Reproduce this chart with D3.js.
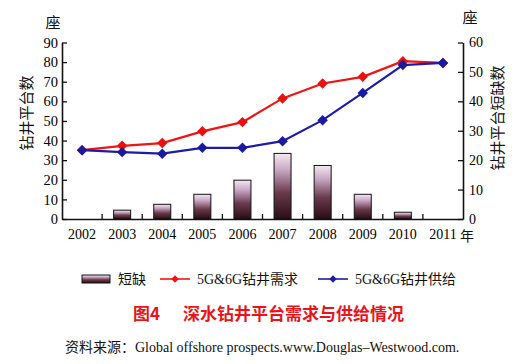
<!DOCTYPE html>
<html><head><meta charset="utf-8">
<script src="https://cdn.jsdelivr.net/npm/d3@7"></script>
<style>
html,body{margin:0;padding:0;background:#fff;}
svg{display:block;}
.serif{font-family:"Liberation Serif","DejaVu Serif","Noto Sans CJK SC",serif;}
.cjk{font-family:"Noto Sans CJK SC",sans-serif;}
</style></head>
<body>
<svg id="c" width="522" height="364"></svg>
<script>
const years = ["2002","2003","2004","2005","2006","2007","2008","2009","2010","2011"];
const demand = [35.1, 37.3, 38.7, 44.7, 49.4, 61.5, 69.1, 72.5, 80.5, 79.6];
const supply = [35.1, 34.1, 33.3, 36.3, 36.3, 39.7, 50.4, 64.3, 78.5, 79.6];
const shortage = [0, 3, 5, 8.4, 13.2, 22.3, 18.2, 8.4, 2.3, 0];
const leftTicks = [0,10,20,30,40,50,60,70,80,90];
const rightTicks = [0,10,20,30,40,50,60];
const legendLabels = ["短缺","5G&6G钻井需求","5G&6G钻井供给"];

const svg = d3.select("#c");
const L = 62, R = 463, T = 42.5, B = 219;
const x = d3.scaleBand().domain(years).range([L, R]).padding(0);
const yL = d3.scaleLinear().domain([0, 90]).range([B, T]);
const yR = d3.scaleLinear().domain([0, 60]).range([B, T]);

const defs = svg.append("defs");
const g = defs.append("linearGradient").attr("id","barg").attr("x1",0).attr("y1",0).attr("x2",0).attr("y2",1);
g.append("stop").attr("offset","0%").attr("stop-color","#f4e8f2");
g.append("stop").attr("offset","25%").attr("stop-color","#c8a8c4");
g.append("stop").attr("offset","60%").attr("stop-color","#6a3a4c");
g.append("stop").attr("offset","100%").attr("stop-color","#2a0c14");

// bars
const bw = 17;
svg.append("g").selectAll("rect").data(years.map((y,i)=>({y, v: shortage[i]})).filter(d=>d.v>0))
  .join("rect")
  .attr("x", d => x(d.y) + x.bandwidth()/2 - bw/2)
  .attr("y", d => yR(d.v))
  .attr("width", bw)
  .attr("height", d => B - yR(d.v))
  .attr("fill", "url(#barg)")
  .attr("stroke", "#111").attr("stroke-width", 1);

// axes
const axL = d3.axisLeft(yL).tickValues(leftTicks).tickSizeInner(-5).tickSizeOuter(0).tickPadding(4);
const gl = svg.append("g").attr("transform",`translate(${L},0)`).call(axL);
const axR = d3.axisRight(yR).tickValues(rightTicks).tickSizeInner(-5).tickSizeOuter(0).tickPadding(6);
const gr = svg.append("g").attr("transform",`translate(${R},0)`).call(axR);
const axB = d3.axisBottom(x).tickSize(0).tickPadding(10);
const gb = svg.append("g").attr("transform",`translate(0,${B})`).call(axB);
[gl, gr, gb].forEach(a => {
  a.select(".domain").attr("stroke","#111").attr("stroke-width",1.6);
  a.selectAll("line").attr("stroke","#111").attr("stroke-width",1.3);
  a.selectAll("text").attr("class","serif").attr("font-size",14).attr("fill","#000");
});
gl.selectAll("text").attr("font-size",14.5);
gr.selectAll("text").attr("font-size",14);
// category boundary ticks
svg.append("g").selectAll("line").data(years.slice(1)).join("line")
  .attr("x1", d => x(d)).attr("x2", d => x(d))
  .attr("y1", B).attr("y2", B - 5)
  .attr("stroke","#111").attr("stroke-width",1.3);

// lines
function series(vals, color, fill) {
  const pts = years.map((y,i)=>[x(y)+x.bandwidth()/2, yL(vals[i])]);
  svg.append("path").attr("d", d3.line()(pts)).attr("fill","none")
    .attr("stroke", color).attr("stroke-width", 2.2);
  svg.append("g").selectAll("path").data(pts).join("path")
    .attr("transform", d => `translate(${d[0]},${d[1]})`)
    .attr("d", d3.symbol().type(d3.symbolDiamond2).size(70))
    .attr("fill", fill);
}
series(demand, "#f01414", "#e81010");
series(supply, "#1c1ca8", "#1a1aa0");

// axis titles
svg.append("text").attr("class","cjk").attr("x",53).attr("y",28).attr("text-anchor","middle")
  .attr("font-size",15).attr("fill","#111").text("座");
svg.append("text").attr("class","cjk").attr("x",470).attr("y",23).attr("text-anchor","middle")
  .attr("font-size",15).attr("fill","#111").text("座");
svg.append("text").attr("class","cjk").attr("transform","translate(32,113) rotate(-90)")
  .attr("text-anchor","middle").attr("font-size",15).attr("fill","#111").text("钻井平台数");
svg.append("text").attr("class","cjk").attr("transform","translate(503,118) rotate(-90)")
  .attr("text-anchor","middle").attr("font-size",15).attr("fill","#111").text("钻井平台短缺数");
svg.append("text").attr("class","cjk").attr("x",467).attr("y",241).attr("text-anchor","middle")
  .attr("font-size",14).attr("fill","#111").text("年");

// legend
const ly = 279;
svg.append("rect").attr("x",82).attr("y",ly-4).attr("width",28).attr("height",8)
  .attr("fill","url(#barg)").attr("stroke","#111").attr("stroke-width",1);
svg.append("text").attr("class","serif").attr("x",118).attr("y",ly+5).attr("font-size",14).attr("fill","#111").text(legendLabels[0]);
function legLine(x0, color, label) {
  svg.append("line").attr("x1",x0).attr("x2",x0+30).attr("y1",ly).attr("y2",ly).attr("stroke",color).attr("stroke-width",1.6);
  svg.append("path").attr("transform",`translate(${x0+15},${ly})`).attr("d",d3.symbol().type(d3.symbolDiamond2).size(36)).attr("fill",color);
  svg.append("text").attr("class","serif").attr("x",x0+37).attr("y",ly+5).attr("font-size",14).attr("fill","#111").text(label);
}
legLine(160, "#f01414", legendLabels[1]);
legLine(318, "#1c1ca8", legendLabels[2]);

// caption
svg.append("text").attr("class","cjk").attr("x",133).attr("y",320).attr("font-size",17).attr("font-weight","bold")
  .attr("fill","#e8141c").text("图4");
svg.append("text").attr("class","cjk").attr("x",183).attr("y",320).attr("font-size",17).attr("font-weight","bold")
  .attr("fill","#e8141c").text("深水钻井平台需求与供给情况");
svg.append("text").attr("class","serif").attr("x",65).attr("y",352).attr("font-size",14).attr("fill","#111")
  .text("资料来源：Global offshore prospects.www.Douglas–Westwood.com.");
</script>
</body></html>
